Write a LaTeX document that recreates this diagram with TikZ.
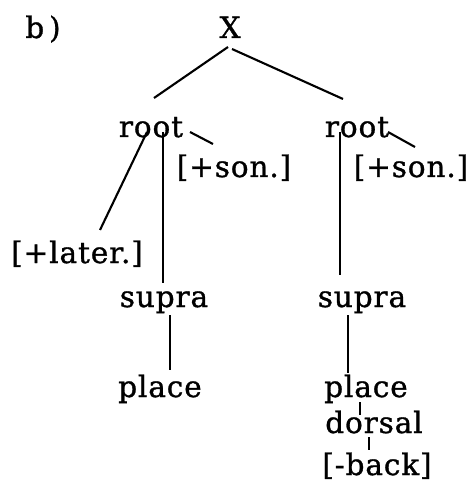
\documentclass[tikz,border=0pt]{standalone}
\usepackage{fontspec}
\setmainfont{DejaVu Serif}
\usepackage{tikz}
\usetikzlibrary{calc}
\tikzset{lbl/.style={anchor=base,inner sep=0pt,font=\fontsize{21}{24}\selectfont\addfontfeatures{LetterSpace=3,FakeBold=1}},edge/.style={draw=black,line width=1.5pt}}

\begin{document}
\begin{tikzpicture}[x=0.025cm,y=-0.025cm]
\useasboundingbox (0,0) rectangle (469,491);
\foreach \x/\y/\id/\txt in {43/38/lab/{b\,)},230/38/X/X,151/137/rootL/root,357/137/rootR/root,234/177/sonL/{[+son.]},411/177/sonR/{[+son.]},77/263/later/{[+later.]},164/307/supraL/supra,362/307/supraR/supra,160/397/placeL/place,366/397/placeR/place,374/433/dorsal/dorsal,377/475/back/{[-back]}}{\node[lbl] (\id) at (\x,\y) {\txt};}
\draw[edge] ($(X.base)+(-2,9)$)--($(rootL.base)+(3,-39)$);
\draw[edge] ($(X.base)+(2,11)$)--($(rootR.base)+(-14,-38)$);
\draw[edge] ($(rootL.base)+(39,-5)$)--($(sonL.base)+(-21,-33)$);
\draw[edge] ($(rootR.base)+(31,-5)$)--($(sonR.base)+(4,-30)$);
\draw[edge] ($(rootL.base)+(-4,-5)$)--($(later.base)+(23,-33)$);
\draw[edge] ($(rootL.base)+(12,-5)$)--($(supraL.base)+(-1,-24)$);
\draw[edge] ($(supraL.base)+(6,8)$)--($(placeL.base)+(10,-27)$);
\draw[edge] ($(rootR.base)+(-17,-5)$)--($(supraR.base)+(-22,-32)$);
\draw[edge] ($(supraR.base)+(-14,8)$)--($(placeR.base)+(-18,-24)$);
\draw[edge] ($(placeR.base)+(-6,5)$)--($(dorsal.base)+(-14,-18)$);
\draw[edge] ($(dorsal.base)+(-5,4)$)--($(back.base)+(-8,-25)$);
\end{tikzpicture}
\end{document}
